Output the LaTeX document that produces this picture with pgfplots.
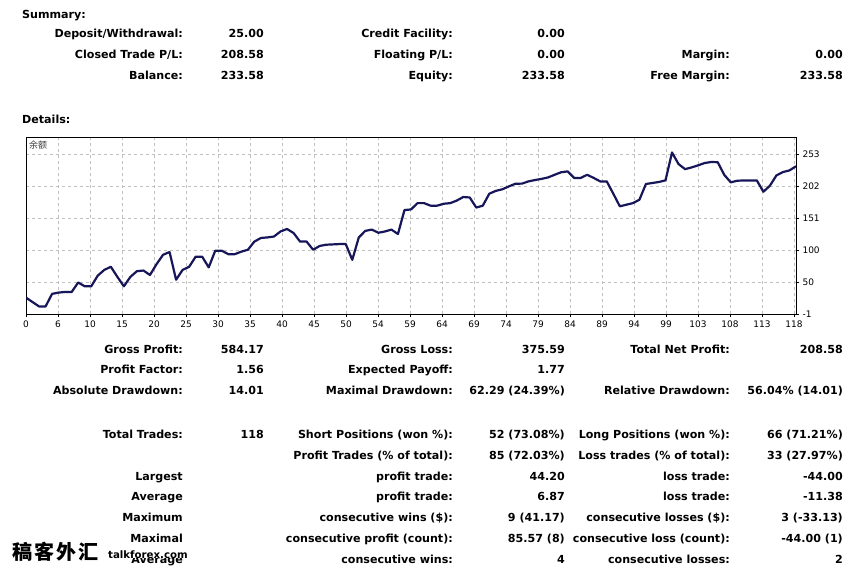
\documentclass[border=0pt]{standalone}
\usepackage{fontspec}
\setmainfont{DejaVu Sans}
\newfontfamily\cjk{Noto Sans CJK SC}
\usepackage{pgfplots}
\pgfplotsset{compat=1.18}
\definecolor{navy}{RGB}{22,22,88}
\definecolor{gridc}{RGB}{192,192,192}

\begin{document}
\begin{tikzpicture}[x=1pt,y=1pt]
\path[use as bounding box, fill=white] (0,0) rectangle (864,-568);
\tikzset{lab/.style={anchor=base east, inner sep=0pt, font=\fontsize{11.1}{12}\selectfont\bfseries},
         labw/.style={anchor=base west, inner sep=0pt, font=\fontsize{11.1}{12}\selectfont\bfseries}}
\newcommand\R[3]{\node[lab] at (#1,-#2) {#3};}
% ---- Summary ----
\node[labw] at (22,-18) {Summary:};
\R{183}{37}{Deposit/Withdrawal:}\R{264}{37}{25.00}\R{453}{37}{Credit Facility:}\R{565}{37}{0.00}
\R{183}{58}{Closed Trade P/L:}\R{264}{58}{208.58}\R{453}{58}{Floating P/L:}\R{565}{58}{0.00}\R{730}{58}{Margin:}\R{843}{58}{0.00}
\R{183}{79}{Balance:}\R{264}{79}{233.58}\R{453}{79}{Equity:}\R{565}{79}{233.58}\R{730}{79}{Free Margin:}\R{843}{79}{233.58}
\node[labw] at (22,-123) {Details:};
% ---- Lower table ----
\R{183}{353}{Gross Profit:}\R{264}{353}{584.17}\R{453}{353}{Gross Loss:}\R{565}{353}{375.59}\R{730}{353}{Total Net Profit:}\R{843}{353}{208.58}
\R{183}{373}{Profit Factor:}\R{264}{373}{1.56}\R{453}{373}{Expected Payoff:}\R{565}{373}{1.77}
\R{183}{394}{Absolute Drawdown:}\R{264}{394}{14.01}\R{453}{394}{Maximal Drawdown:}\R{565}{394}{62.29 (24.39\%)}\R{730}{394}{Relative Drawdown:}\R{843}{394}{56.04\% (14.01)}
\R{183}{438}{Total Trades:}\R{264}{438}{118}\R{453}{438}{Short Positions (won \%):}\R{565}{438}{52 (73.08\%)}\R{730}{438}{Long Positions (won \%):}\R{843}{438}{66 (71.21\%)}
\R{453}{459}{Profit Trades (\% of total):}\R{565}{459}{85 (72.03\%)}\R{730}{459}{Loss trades (\% of total):}\R{843}{459}{33 (27.97\%)}
\R{183}{480}{Largest}\R{453}{480}{profit trade:}\R{565}{480}{44.20}\R{730}{480}{loss trade:}\R{843}{480}{-44.00}
\R{183}{500}{Average}\R{453}{500}{profit trade:}\R{565}{500}{6.87}\R{730}{500}{loss trade:}\R{843}{500}{-11.38}
\R{183}{521}{Maximum}\R{453}{521}{consecutive wins (\$):}\R{565}{521}{9 (41.17)}\R{730}{521}{consecutive losses (\$):}\R{843}{521}{3 (-33.13)}
\R{183}{542}{Maximal}\R{453}{542}{consecutive profit (count):}\R{565}{542}{85.57 (8)}\R{730}{542}{consecutive loss (count):}\R{843}{542}{-44.00 (1)}
\R{183}{563}{Average}\R{453}{563}{consecutive wins:}\R{565}{563}{4}\R{730}{563}{consecutive losses:}\R{843}{563}{2}
% ---- watermark ----
\node[anchor=base west, inner sep=0pt] at (12,-559) {\cjk\bfseries\fontsize{20}{20}\selectfont 稿\kern2pt客\kern2pt外\kern2pt汇};
\node[anchor=base west, inner sep=0pt, fill=white, font=\fontsize{10.2}{11}\selectfont\bfseries] at (108,-558) {talkforex.com};
% ---- chart ----
\begin{axis}[
  at={(26pt,-314pt)}, anchor=south west, scale only axis,
  width=770pt, height=177pt,
  xmin=0, xmax=118, ymin=-1, ymax=280,
  axis line style={black, line width=0.8pt},
  grid=major, grid style={gridc, dash pattern=on 3pt off 3pt, line width=0.6pt},
  ytick={-1,50,100,151,202,253}, yticklabels={-1,50,100,151,202,253},
  ytick pos=right, xtick pos=bottom,
  xtick={0,4.904,9.808,14.712,19.616,24.52,29.424,34.328,39.232,44.136,49.04,53.944,58.848,63.752,68.656,73.56,78.464,83.368,88.272,93.176,98.08,102.984,107.888,112.792,117.696},
  xticklabels={0,6,10,15,20,25,30,35,40,45,50,54,59,64,69,74,79,84,89,94,99,103,108,113,118},
  tick align=outside, major tick length=3pt, tick style={black, line width=0.6pt},
  ticklabel style={font=\fontsize{9}{10}\selectfont, text=black},
  /pgf/number format/assume math mode=true,
  clip=true,
]
\addplot[navy, line width=2.2pt, line join=round] coordinates {
(0,25) (1,18) (2,11) (3,11) (4,31) (5,33) (6,34) (7,34) (8,49) (9,43)
(10,43) (11,60) (12,69) (13,74) (14,58) (15,43) (16,58) (17,67) (18,68) (19,61)
(20,78) (21,93) (22,97.4) (23,53.4) (24,69) (25,74) (26,90) (27,90) (28,73) (29,99.5)
(30,99.5) (31,94) (32,94) (33,98) (34,101) (35,114) (36,119.7) (37,120.6) (38,122) (39,130)
(40,134) (41,127.6) (42,114) (43,114) (44,101) (45,107) (46,109) (47,109.5) (48,110) (49,110)
(50,85) (51,120.6) (52,131) (53,133) (54,128) (55,130) (56,133) (57,126) (58,164) (59,165)
(60,175) (61,175) (62,171) (63,171) (64,174) (65,175) (66,179) (67,184.7) (68,184) (69,168)
(70,171) (71,190) (72,194.5) (73,197) (74,201.6) (75,205.8) (76,206) (77,209.5) (78,211.7) (79,213.5)
(80,215.8) (81,220) (82,224) (83,225.4) (84,215) (85,215) (86,220) (87,215) (88,209.5) (89,209.5)
(90,190) (91,170) (92,172.5) (93,175) (94,180.4) (95,205.4) (96,207) (97,208.6) (98,211.2) (99,255.4)
(100,237) (101,229) (102,231.7) (103,235) (104,238.7) (105,240.3) (106,240) (107,220) (108,208) (109,210.6)
(110,211) (111,211) (112,211) (113,193.1) (114,202.7) (115,219) (116,224.4) (117,227) (118,233.58)
};
\end{axis}
\node[anchor=base west, inner sep=0pt, text={rgb,255:red,60;green,60;blue,60}] at (29,-148) {\cjk\fontsize{9}{9}\selectfont 余额};
\end{tikzpicture}
\end{document}
